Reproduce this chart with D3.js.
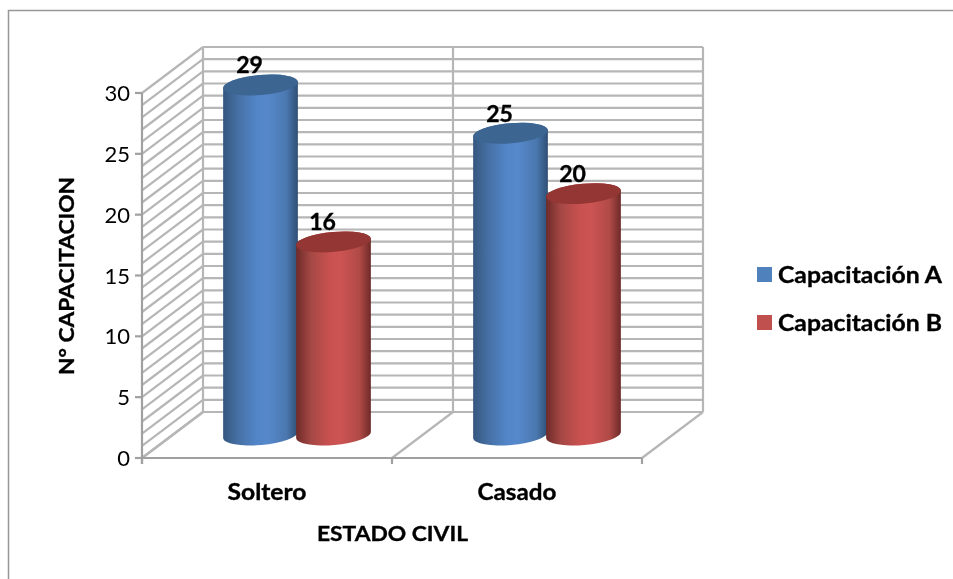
<!DOCTYPE html>
<html><head><meta charset="utf-8">
<script src="https://cdn.jsdelivr.net/npm/d3@7"></script>
<style>html,body{margin:0;padding:0;background:#fff}svg{display:block;filter:blur(0.35px)}text{font-family:Lato,"Open Sans",sans-serif;fill:#000}text.b{stroke:#000;stroke-width:.35px}</style>
</head><body><svg id="c" width="953" height="579"></svg>
<script>
const categories = ["Soltero", "Casado"];
const seriesNames = ["Capacitación A", "Capacitación B"];
const seriesA = [29, 25];
const seriesB = [16, 20];
const yMajorTicks = [0, 5, 10, 15, 20, 25, 30];
const yGridValues = d3.range(0, 31);
const xTitle = "ESTADO CIVIL";
const yTitle = "N° CAPACITACION";

const svg = d3.select("#c");
const W = {x0: 142, x1: 642, y0: 458, y1: 93, dx: 61, dy: -46};
const x = d3.scaleBand().domain(categories).range([W.x0, W.x1]);
const xS = d3.scaleBand().domain([0, 1]).range([-73, 73]);
const y = d3.scaleLinear().domain([0, 30]).range([W.y0, W.y1]);

svg.append("path").attr("d", "M8.5 579V10.5H953").attr("fill", "none").attr("stroke", "#979797").attr("stroke-width", 1.5);

const defs = svg.append("defs");
const fills = [
  {id: "ga", stops: ["#35577f", "#4670a4", "#5286c8", "#5688cb", "#4a77ae", "#2f4f75"], top: "#3c6591", flat: "#4f81bd"},
  {id: "gb", stops: ["#6f2b29", "#a54845", "#c9514f", "#cc5452", "#b04a47", "#6e2a28"], top: "#943634", flat: "#c0504d"}
];
fills.forEach(f => {
  const g = defs.append("linearGradient").attr("id", f.id);
  f.stops.forEach((c, i) => g.append("stop").attr("offset", [0, .2, .45, .6, .85, 1][i]).attr("stop-color", c));
});

const grid = svg.append("g").attr("fill", "none").attr("stroke", "#b6b6b6").attr("stroke-width", 2.2);
const bx0 = W.x0 + W.dx, bx1 = W.x1 + W.dx;
yGridValues.forEach(v => {
  const yy = y(v);
  grid.append("line").attr("x1", bx0).attr("x2", bx1).attr("y1", yy + W.dy).attr("y2", yy + W.dy);
  grid.append("line").attr("x1", W.x0).attr("x2", bx0).attr("y1", yy).attr("y2", yy + W.dy);
});
const boundaries = [W.x0, x(categories[1]), W.x1];
boundaries.forEach(b => {
  grid.append("line").attr("x1", b + W.dx).attr("x2", b + W.dx).attr("y1", y(0) + W.dy).attr("y2", y(30) + W.dy);
  grid.append("line").attr("x1", b).attr("x2", b + W.dx).attr("y1", y(0)).attr("y2", y(0) + W.dy);
});

const axis = svg.append("g").attr("stroke", "#a0a0a0").attr("stroke-width", 2.2).attr("fill", "none");
axis.append("line").attr("x1", W.x0).attr("x2", W.x0).attr("y1", y(30)).attr("y2", y(0) + 6);
axis.append("line").attr("x1", W.x0).attr("x2", W.x1).attr("y1", y(0)).attr("y2", y(0));
yMajorTicks.forEach(v => axis.append("line").attr("x1", W.x0 - 7).attr("x2", W.x0).attr("y1", y(v)).attr("y2", y(v)));
boundaries.forEach(b => axis.append("line").attr("x1", b).attr("x2", b).attr("y1", y(0)).attr("y2", y(0) + 6));

const stretched = (sel, len) => sel.attr("class", "b").attr("textLength", len).attr("lengthAdjust", "spacingAndGlyphs");

yMajorTicks.forEach(v => svg.append("text").attr("x", 130).attr("y", y(v) + 8).attr("text-anchor", "end").attr("font-size", 22).text(v));
categories.forEach(c => stretched(svg.append("text").attr("x", x(c) + x.bandwidth() / 2).attr("y", 500).attr("text-anchor", "middle").attr("font-size", 22).attr("font-weight", 700).text(c), 79));
stretched(svg.append("text").attr("x", 392.5).attr("y", 541).attr("text-anchor", "middle").attr("font-size", 21).attr("font-weight", 700).text(xTitle), 151);
stretched(svg.append("text").attr("transform", "translate(74,276) rotate(-90)").attr("text-anchor", "middle").attr("font-size", 21).attr("font-weight", 700).text(yTitle), 198);

const rx = 37.5, ry = 10, tilt = -5, barScale = 0.992;
const sin = Math.sin(tilt * Math.PI / 180), cos = Math.cos(tilt * Math.PI / 180);
const depthX = 30, depthY = W.dy / 2;
const barTop = v => y(0) + depthY - (y(0) - y(v)) * barScale;
[seriesA, seriesB].forEach((vals, s) => {
  const f = fills[s];
  vals.forEach((v, i) => {
    const cx = x(categories[i]) + x.bandwidth() / 2 + depthX + xS(s) + xS.bandwidth() / 2;
    const top = barTop(v), base = y(0) + depthY;
    const lx = rx * cos, ly = rx * sin;
    const arc = (x2, y2, sweep) => `A${rx} ${ry} ${tilt} 1 ${sweep} ${x2} ${y2}`;
    const g = svg.append("g");
    g.append("path").attr("fill", `url(#${f.id})`)
      .attr("d", `M${cx - lx} ${top - ly}` + arc(cx + lx, top + ly, 1) + `L${cx + lx} ${base + ly}` + arc(cx - lx, base - ly, 1) + "Z");
    g.append("ellipse").attr("cx", cx).attr("cy", top).attr("rx", rx).attr("ry", ry)
      .attr("transform", `rotate(${tilt} ${cx} ${top})`).attr("fill", f.top);
  });
});
[seriesA, seriesB].forEach((vals, s) => vals.forEach((v, i) => {
  const cx = x(categories[i]) + x.bandwidth() / 2 + depthX + xS(s) + xS.bandwidth() / 2;
  svg.append("text").attr("class", "b").attr("x", cx - 11).attr("y", barTop(v) - 11.5).attr("text-anchor", "middle").attr("font-size", 23).attr("font-weight", 700).text(v);
}));

seriesNames.forEach((n, i) => {
  const ly = 274.5 + i * 48;
  svg.append("rect").attr("x", 757).attr("y", ly - 7.5).attr("width", 15).attr("height", 15).attr("fill", fills[i].flat);
  stretched(svg.append("text").attr("x", 778).attr("y", ly + 8).attr("font-size", 22).attr("font-weight", 700).text(n), 164);
});
</script></body></html>
